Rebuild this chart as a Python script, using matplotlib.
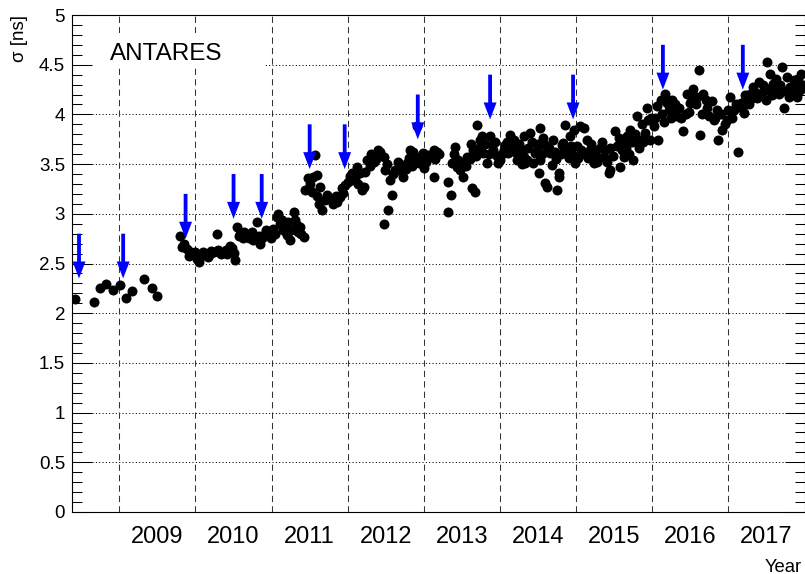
import matplotlib
matplotlib.use('Agg')
from matplotlib import pyplot as plt
from matplotlib.patches import Rectangle, FancyArrow

plt.rcParams['font.family'] = ['Liberation Sans', 'DejaVu Sans']

# time resolution per run period (year, sigma [ns])
years = [2008.42, 2008.67, 2008.75, 2008.83, 2008.92, 2009.01, 2009.09, 2009.17, 2009.33, 2009.43,
         2009.50, 2009.80, 2009.82, 2009.89, 2009.94, 2009.97, 2010.02, 2010.05, 2010.10, 2010.17,
         2010.21, 2010.28, 2010.30, 2010.37, 2010.45, 2010.50, 2010.52, 2010.55, 2010.59, 2010.67,
         2010.74, 2010.78, 2010.81, 2010.85, 2010.91, 2010.96, 2011.02, 2011.07, 2011.09, 2011.11,
         2011.20, 2011.18, 2011.24, 2011.29, 2011.33, 2011.37, 2011.42, 2011.44, 2011.48, 2011.55,
         2011.57, 2011.59, 2011.62, 2011.64, 2011.66, 2011.73, 2011.81, 2011.86, 2011.90, 2011.94,
         2011.97, 2012.05, 2012.07, 2012.12, 2012.16, 2012.19, 2012.21, 2012.25, 2012.34, 2012.40,
         2012.47, 2012.47, 2012.49, 2012.53, 2012.56, 2012.58, 2012.62, 2012.69, 2012.73, 2012.78,
         2012.82, 2012.86, 2012.89, 2012.91, 2012.93, 2012.99, 2013.00, 2013.06, 2013.13, 2013.13,
         2013.17, 2013.32, 2013.32, 2013.35, 2013.37, 2013.41, 2013.45, 2013.48, 2013.52, 2013.57,
         2013.63, 2013.65, 2013.67, 2013.70, 2013.74, 2013.76, 2013.78, 2013.83, 2013.87, 2013.89,
         2013.91, 2013.98, 2014.00, 2014.05, 2014.07, 2014.11, 2014.13, 2014.18, 2014.22, 2014.23,
         2014.27, 2014.30, 2014.31, 2014.32, 2014.33, 2014.35, 2014.40, 2014.44, 2014.46, 2014.48,
         2014.51, 2014.52, 2014.53, 2014.59, 2014.59, 2014.62, 2014.66, 2014.68, 2014.70, 2014.72,
         2014.75, 2014.77, 2014.78, 2014.81, 2014.83, 2014.86, 2014.92, 2014.93, 2014.97, 2014.99,
         2015.01, 2015.05, 2015.06, 2015.08, 2015.10, 2015.14, 2015.18, 2015.21, 2015.23, 2015.27,
         2015.32, 2015.36, 2015.43, 2015.44, 2015.45, 2015.51, 2015.54, 2015.58, 2015.62, 2015.63,
         2015.67, 2015.71, 2015.75, 2015.80, 2015.84, 2015.91, 2015.93, 2015.95, 2015.97, 2016.02,
         2016.06, 2016.08, 2016.11, 2016.17, 2016.19, 2016.26, 2016.28, 2016.32, 2016.41, 2016.46,
         2016.50, 2016.54, 2016.59, 2016.61, 2016.63, 2016.67, 2016.72, 2016.78, 2016.81, 2016.85,
         2016.87, 2016.92, 2016.98, 2017.02, 2017.07, 2017.13, 2017.16, 2017.20, 2017.24, 2017.29,
         2017.33, 2017.40, 2017.42, 2017.49, 2017.51, 2017.55, 2017.59, 2017.66, 2017.70, 2017.73,
         2017.77, 2017.81, 2017.86, 2017.90, 2017.94, 2017.96,
         2009.85, 2009.92, 2010.00, 2010.07, 2010.13, 2010.19, 2010.24, 2010.33, 2010.40, 2010.42,
         2010.48, 2010.57, 2010.62, 2010.64, 2010.70, 2010.72, 2010.76, 2010.83, 2010.88, 2010.93,
         2010.99, 2011.04, 2011.13, 2011.15, 2011.22, 2011.26, 2011.31, 2011.35, 2011.39,
         2011.50, 2011.53, 2011.60, 2011.70, 2011.76, 2011.84, 2011.92, 2012.00, 2012.03, 2012.10,
         2012.14, 2012.23, 2012.29, 2012.31, 2012.37, 2012.43, 2012.51, 2012.60, 2012.66, 2012.71,
         2012.76, 2012.80, 2012.84, 2012.95, 2013.03, 2013.09, 2013.15, 2013.20,
         2013.39, 2013.43, 2013.50, 2013.55, 2013.60, 2013.62, 2013.68, 2013.72, 2013.80, 2013.85,
         2013.94, 2013.96, 2014.02, 2014.09, 2014.15, 2014.20, 2014.25, 2014.29, 2014.37, 2014.42,
         2014.50, 2014.55, 2014.57, 2014.64, 2014.73, 2014.80, 2014.88, 2014.90, 2014.95, 2015.03,
         2015.12, 2015.16, 2015.20, 2015.25, 2015.30, 2015.34, 2015.38, 2015.40, 2015.48, 2015.56,
         2015.60, 2015.65, 2015.69, 2015.73, 2015.77, 2015.82, 2015.86, 2015.88, 2015.99, 2016.04,
         2016.13, 2016.15, 2016.22, 2016.24, 2016.30, 2016.35, 2016.38, 2016.44, 2016.48, 2016.52,
         2016.57, 2016.65, 2016.70, 2016.75, 2016.83, 2016.90, 2016.95, 2017.00, 2017.05, 2017.10,
         2017.18, 2017.22, 2017.27, 2017.31, 2017.36, 2017.38, 2017.45, 2017.47, 2017.53, 2017.57,
         2017.62, 2017.64, 2017.68, 2017.75, 2017.79, 2017.84, 2017.88, 2017.92, 2017.98]
sigma = [2.14, 2.11, 2.25, 2.29, 2.23, 2.28, 2.15, 2.22, 2.34, 2.25,
         2.17, 2.78, 2.67, 2.65, 2.62, 2.60, 2.55, 2.52, 2.62, 2.57,
         2.63, 2.80, 2.64, 2.62, 2.68, 2.61, 2.54, 2.87, 2.80, 2.79,
         2.82, 2.77, 2.92, 2.70, 2.80, 2.79, 2.85, 2.97, 3.00, 2.90,
         2.79, 2.87, 2.74, 3.02, 2.89, 2.87, 2.77, 3.24, 3.36, 3.37,
         3.59, 3.39, 3.10, 3.27, 3.04, 3.19, 3.10, 3.12, 3.17, 3.21,
         3.29, 3.41, 3.34, 3.47, 3.41, 3.24, 3.27, 3.54, 3.52, 3.64,
         3.57, 2.90, 3.44, 3.04, 3.34, 3.19, 3.44, 3.47, 3.37, 3.51,
         3.64, 3.62, 3.56, 3.88, 3.51, 3.61, 3.46, 3.59, 3.64, 3.37,
         3.62, 3.02, 3.32, 3.19, 3.51, 3.67, 3.54, 3.44, 3.37, 3.57,
         3.26, 3.64, 3.22, 3.89, 3.74, 3.78, 3.61, 3.51, 3.78, 3.69,
         3.64, 3.51, 3.54, 3.64, 3.69, 3.61, 3.79, 3.74, 3.54, 3.68,
         3.62, 3.64, 3.57, 3.78, 3.51, 3.54, 3.81, 3.51, 3.61, 3.64,
         3.41, 3.54, 3.86, 3.69, 3.31, 3.27, 3.61, 3.49, 3.74, 3.62,
         3.24, 3.41, 3.37, 3.69, 3.71, 3.89, 3.78, 3.68, 3.84, 3.51,
         3.68, 3.88, 3.64, 3.61, 3.86, 3.74, 3.64, 3.64, 3.51, 3.52,
         3.66, 3.57, 3.41, 3.66, 3.44, 3.83, 3.68, 3.47, 3.71, 3.57,
         3.78, 3.84, 3.54, 3.98, 3.74, 3.81, 4.06, 3.94, 3.74, 3.88,
         4.08, 3.74, 4.14, 4.21, 4.11, 4.14, 4.04, 3.98, 3.83, 4.21,
         4.11, 4.26, 4.18, 4.45, 3.79, 4.21, 4.06, 4.13, 3.94, 4.04,
         3.74, 3.84, 3.94, 4.18, 4.04, 3.62, 4.11, 4.01, 4.13, 4.21,
         4.28, 4.33, 4.21, 4.14, 4.53, 4.41, 4.31, 4.21, 4.48, 4.06,
         4.38, 4.28, 4.35, 4.18, 4.25, 4.41,
         2.70, 2.58, 2.62, 2.58, 2.60, 2.60, 2.62, 2.60, 2.64, 2.60,
         2.66, 2.78, 2.76, 2.82, 2.76, 2.80, 2.74, 2.78, 2.76, 2.84,
         2.76, 2.80, 2.94, 2.84, 2.92, 2.84, 2.94, 2.82, 2.80,
         3.30, 3.22, 3.18, 3.14, 3.16, 3.18, 3.26, 3.32, 3.38, 3.36,
         3.30, 3.42, 3.48, 3.60, 3.55, 3.62, 3.50, 3.40, 3.52, 3.42,
         3.45, 3.56, 3.48, 3.57, 3.52, 3.58, 3.55, 3.60,
         3.60, 3.47, 3.50, 3.48, 3.55, 3.70, 3.58, 3.66, 3.70, 3.60,
         3.72, 3.58, 3.60, 3.72, 3.66, 3.62, 3.70, 3.50, 3.66, 3.72,
         3.70, 3.60, 3.76, 3.66, 3.55, 3.60, 3.62, 3.56, 3.60, 3.56,
         3.60, 3.56, 3.70, 3.60, 3.56, 3.72, 3.64, 3.52, 3.58, 3.76,
         3.64, 3.66, 3.60, 3.72, 3.80, 3.66, 3.90, 3.72, 3.96, 3.96,
         4.00, 3.92, 4.04, 3.96, 4.10, 4.06, 3.96, 4.00, 4.02, 4.16,
         4.10, 4.00, 4.14, 3.98, 3.96, 4.00, 3.90, 4.04, 3.96, 4.10,
         4.06, 4.20, 4.10, 4.16, 4.22, 4.16, 4.30, 4.24, 4.26, 4.20,
         4.36, 4.26, 4.30, 4.24, 4.18, 4.22, 4.30, 4.36, 4.30]

# blue arrows: position, top and tip
arrow_x = [2008.47, 2009.05, 2009.87, 2010.50, 2010.87, 2011.50,
           2011.96, 2012.92, 2013.87, 2014.96, 2016.14, 2017.19]
arrow_top = [2.80, 2.80, 3.20, 3.40, 3.40, 3.90, 3.90, 4.20, 4.40, 4.40, 4.70, 4.70]
arrow_tip = [2.35, 2.35, 2.75, 2.95, 2.95, 3.45, 3.45, 3.75, 3.95, 3.95, 4.25, 4.25]

year_edges = [2009, 2010, 2011, 2012, 2013, 2014, 2015, 2016, 2017]
year_labels = ['2009', '2010', '2011', '2012', '2013', '2014', '2015', '2016', '2017']
y_grid = [0.5, 1.0, 1.5, 2.0, 2.5, 3.0, 3.5, 4.0, 4.5]

W, H = 805.0, 574.0
fig = plt.figure(figsize=(W / 100, H / 100), dpi=100)
ax = fig.add_axes([72 / W, 1 - 512 / H, (804.5 - 72) / W, (512 - 15) / H])

xmin, xmax = 2008.378, 2018.0
ax.set_xlim(xmin, xmax)
ax.set_ylim(0, 5)

# grid
for yy in y_grid:
    ax.axhline(yy, color='k', lw=0.75, ls=(0, (1, 2.2)), zorder=1)
for xx in year_edges:
    ax.axvline(xx, color='#333333', lw=0.75, ls=(0, (6, 4)), zorder=1)

# white label box hides the grid
ax.add_patch(Rectangle((xmin, 4.47), 2010.915 - xmin, 0.35, facecolor='white', edgecolor='none', zorder=1.5))
ax.text(2008.878, 4.547, 'ANTARES', fontsize=17.5, ha='left', va='baseline', zorder=2)

ax.plot(years, sigma, 'o', color='k', ms=7.2, mew=0, zorder=3)

for x, t, b in zip(arrow_x, arrow_top, arrow_tip):
    ax.add_patch(FancyArrow(x, t, 0, b - t, width=0.05, head_width=0.17, head_length=0.17,
                            length_includes_head=True, color='#0000ff', lw=0, zorder=4))

# axes
ax.set_yticks([0, 0.5, 1, 1.5, 2, 2.5, 3, 3.5, 4, 4.5, 5])
ax.set_yticklabels(['0', '0.5', '1', '1.5', '2', '2.5', '3', '3.5', '4', '4.5', '5'])
ax.set_yticks([i / 10.0 for i in range(51)], minor=True)
ax.tick_params(axis='y', which='major', direction='in', left=True, right=True,
               length=14.4, width=0.75, labelsize=13.5, pad=5)
ax.tick_params(axis='y', which='minor', direction='in', left=True, right=True,
               length=7.2, width=0.75)

ax.set_xticks([])
ax.set_xticks([y + 0.5 for y in year_edges], minor=True)
ax.set_xticklabels(year_labels, minor=True)
ax.tick_params(axis='x', which='minor', length=0, labelsize=17, pad=10)

for s in ax.spines.values():
    s.set_linewidth(0.8)
    s.set_zorder(5)

fig.text(20 / W, 1 - 15 / H, u'\u03c3 [ns]', rotation=90, ha='center', va='top', fontsize=13.5)
fig.text(802 / W, 1 - 571.5 / H, 'Year', ha='right', va='baseline', fontsize=13.3)

fig.savefig('out.png', dpi=100)
